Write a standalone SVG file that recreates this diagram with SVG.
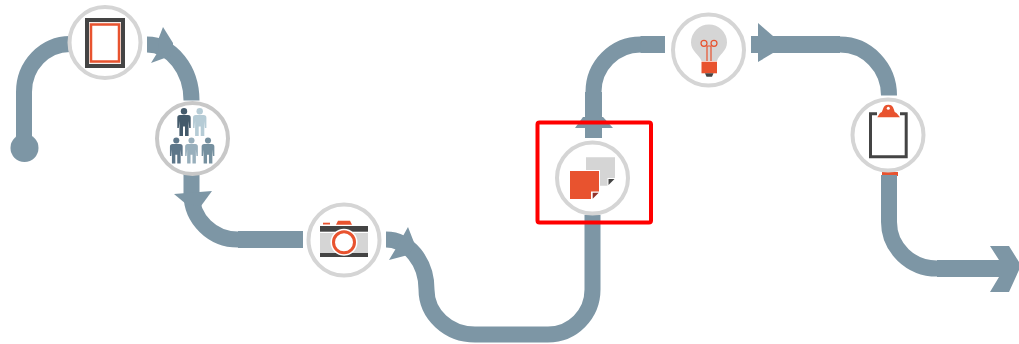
<svg xmlns="http://www.w3.org/2000/svg" width="1019" height="344" viewBox="0 0 1019 344">
<style>
.c{fill:none;stroke:#7d96a5;stroke-width:16}
.s{fill:none;stroke:#7d96a5;stroke-width:17}
.h{fill:#7d96a5}
.n{fill:#fff;stroke:#d5d5d5;stroke-width:4}
.o{fill:#e8532f}
.d{fill:#444}
</style>
<defs>
<g id="p"><circle cx="0" cy="3.200" r="3.200"/><path d="M-4 7H4Q6.700 7 6.700 9.700V20H5.200L4.600 13V28H1V18.500H-1V28H-4.600V13L-5.200 20H-6.700V9.700Q-6.700 7 -4 7Z"/></g>
</defs>
<rect width="1019" height="344" fill="#fff"/>
<g id="connectors">
<circle class="h" cx="24.500" cy="148" r="14"/>
<path class="c" d="M24 148V92A46 48 0 0 1 70 44"/>
<path class="c" d="M147 44.500A44.500 56 0 0 1 191.500 100.500"/>
<polygon class="h" points="158,40 163,27 173,43 173,55 151,63 159,50"/>
<path class="c" d="M191.500 172V194A46.500 45.500 0 0 0 238 239.500H240"/>
<path class="s" d="M238 239.500H303"/>
<polygon class="h" points="174,194 212,191 201,206 186,204"/>
<path class="c" d="M386 239.500A40.500 50 0 0 1 426.500 289.500A48.500 45 0 0 0 475 334.500H548A44.500 45 0 0 0 592.500 289.500V215"/>
<polygon class="h" points="403,236 408,227 415,245 408,255 389,260 395,250"/>
<path class="c" d="M593.500 94V92A47 47.500 0 0 1 640.500 44.500H643"/>
<path class="s" d="M593.500 138V92M640.500 44.500H665"/>
<polygon class="h" points="575,128 613,128 603,117 583,117"/>
<path class="s" d="M751 44.500H840"/>
<path class="c" d="M838 44.500H840A49 51 0 0 1 889 95.500"/>
<polygon class="h" points="758,23 773,36 773,53 758,62"/>
<rect class="o" x="882" y="172" width="16" height="4"/>
<path class="c" d="M889 175V222A48 46.500 0 0 0 937 268.500H940"/>
<path class="s" d="M937 268.500H1005"/>
<polygon class="h" points="990,246 1009,246 1019,262 1019,270 1009,292 990,292 999,277 999,260"/>
</g>
<g id="node-frame">
<circle class="n" cx="105" cy="42.500" r="35.500"/>
<rect x="87" y="20" width="36" height="46" fill="#f4f1ee" stroke="#444" stroke-width="4"/>
<rect x="91" y="24.500" width="28" height="37" fill="#fff" stroke="#e8532f" stroke-width="2.500"/>
</g>
<g id="node-people">
<circle class="n" cx="192.500" cy="138.500" r="35.500" style="stroke:#c8c8c8"/>
<use href="#p" x="184" y="108" fill="#435a6b"/>
<use href="#p" x="199.700" y="108" fill="#b6ccd6"/>
<use href="#p" transform="translate(176.300 137.500) scale(.95 .93)" fill="#5d7689"/>
<use href="#p" transform="translate(191.500 137.500) scale(.95 .93)" fill="#98afbc"/>
<use href="#p" transform="translate(208 137.500) scale(.95 .93)" fill="#75909f"/>
</g>
<g id="node-camera">
<circle class="n" cx="344" cy="240" r="35.500"/>
<rect x="320" y="233" width="48" height="20" fill="#d5d5d5"/>
<rect class="d" x="320" y="226" width="48" height="5.700"/>
<rect class="d" x="320" y="253" width="48" height="4"/>
<rect class="o" x="323" y="222.700" width="7" height="1.800"/>
<path class="o" d="M336 224.700L338 220.700H350L352 224.700Z"/>
<circle cx="344" cy="242.300" r="13.500" fill="#fff"/>
<circle cx="344" cy="242.300" r="10.500" fill="#fff" stroke="#e8532f" stroke-width="3"/>
</g>
<g id="node-pages">
<circle class="n" cx="592.500" cy="178" r="35.500"/>
<path d="M586 157.300H615V178H607.500V185.700H586Z" fill="#d5d5d5"/>
<path class="d" d="M608.500 179H614.500L608.500 185Z"/>
<rect x="569" y="170" width="31" height="30" fill="#fff"/>
<path class="o" d="M570 171H599V191.500H591V199H570Z"/>
<path d="M592.700 192.700H598.700L592.700 198.700Z" fill="#93322a"/>
</g>
<g id="node-bulb">
<circle class="n" cx="708.500" cy="50" r="35.500"/>
<path d="M701.500 61C699.500 55 691 51 691 42.500A18 18 0 0 1 727 42.500C727 51 718.500 55 717 61Z" fill="#d5d5d5"/>
<g fill="none" stroke="#e8532f" stroke-width="1.200"><circle cx="704" cy="43.300" r="3"/><circle cx="714" cy="43.300" r="3"/><path d="M706.500 46H711.500M707 46V61M711 46V61"/></g>
<rect class="o" x="701.500" y="61.700" width="15.500" height="11.600"/>
<path class="d" d="M705 73.300H713.500L712 76.700H706.500Z"/>
</g>
<g id="node-clipboard">
<circle class="n" cx="888" cy="135" r="35.500"/>
<path d="M877 113.800H870.500V156.800H906.200V113.800H900" fill="none" stroke="#444" stroke-width="3"/>
<path class="o" d="M877.300 117.300L880 113Q882.500 112 883 109A5.500 5.500 0 0 1 893.700 109Q894 112 896.500 113L900 117.300Z"/>
<circle cx="888.300" cy="108.300" r="1.500" fill="#fff"/>
</g>
<rect id="highlight" x="537.500" y="122.500" width="113.500" height="100" rx="2" fill="none" stroke="#f00" stroke-width="4"/>
</svg>
